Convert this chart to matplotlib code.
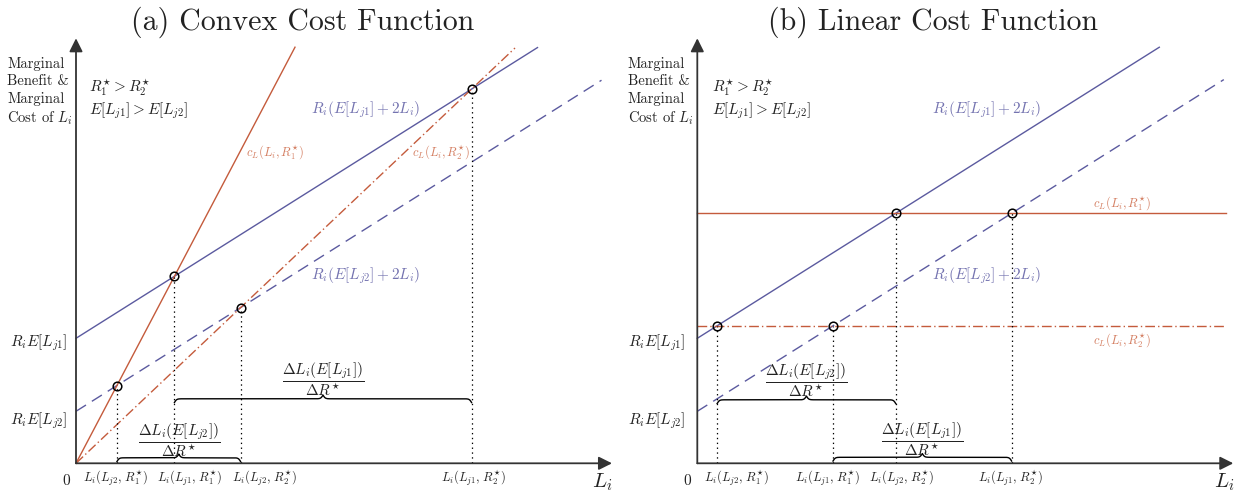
import numpy as np
import matplotlib
matplotlib.use("Agg")
import matplotlib.pyplot as plt

plt.rcParams['font.family'] = 'serif'
plt.rcParams['font.serif'] = ['cmr10']
plt.rcParams['mathtext.fontset'] = 'cm'
plt.rcParams['axes.unicode_minus'] = False
plt.rcParams['axes.formatter.use_mathtext'] = True
plt.rcParams['lines.scale_dashes'] = False

# ---- values (1 unit = 50 px) ----
benefit_intercepts = [2.5, 1.04]          # R_i E[L_j1], R_i E[L_j2]
benefit_slope = 0.63
benefit_ends_a = [9.23, 10.51]
benefit_ends_b = [9.24, 10.53]
convex_slopes = [1.9, 0.946]              # c_L(L_i, R1*), c_L(L_i, R2*)
convex_ends = [4.38, 8.78]
linear_levels = [5.0, 2.75]               # c_L(L_i, R1*), c_L(L_i, R2*)
linear_end = 10.57

# where the x labels sit (they are nudged apart in the original)
xtick_pos_a = [0.8, 2.28, 3.78, 7.96]
xtick_pos_b = [0.79, 2.61, 4.09, 6.27]
xtick_labels = [r'$L_i(L_{j2},\,R_1^{\star})$', r'$L_i(L_{j1},\,R_1^{\star})$',
                r'$L_i(L_{j2},\,R_2^{\star})$', r'$L_i(L_{j1},\,R_2^{\star})$']
ytick_labels = [r'$R_iE[L_{j1}]$', r'$R_iE[L_{j2}]$']
benefit_labels = [r'$R_i(E[L_{j1}]+2L_i)$', r'$R_i(E[L_{j2}]+2L_i)$']
cost_labels = [r'$c_L(L_i,R_1^{\star})$', r'$c_L(L_i,R_2^{\star})$']
brace_labels = [r'$\dfrac{\Delta L_i(E[L_{j1}])}{\Delta R^{\star}}$',
                r'$\dfrac{\Delta L_i(E[L_{j2}])}{\Delta R^{\star}}$']
titles = ['(a) Convex Cost Function', '(b) Linear Cost Function']

BLUE = '#5b5a9f'
RED = '#c45b3c'
BLUE_TXT = '#7473b0'
RED_TXT = '#d47f62'
INK = '#222222'
DASH = (0, (8.5, 5))
DASHDOT = (0, (7, 2.2, 1, 2.2))
DOT = (0, (1, 2.5))


def draw_brace(ax, x0, x1, y, h=0.15, beta=45.0):
    half = (x1 - x0) / 2
    t = np.linspace(0, half, 200)
    yy = 1 / (1 + np.exp(-beta * t)) + 1 / (1 + np.exp(-beta * (t - half))) - 0.5
    xs = np.concatenate([x0 + t, x1 - t[::-1]])
    ys = np.concatenate([yy, yy[::-1]]) * h + y - h / 2
    ax.plot(xs, ys, color='k', lw=1.0)


def draw_axes(ax):
    arrow = dict(arrowstyle='-|>', color='#333333', lw=1.3, mutation_scale=20,
                 shrinkA=0, shrinkB=0)
    ax.annotate('', xy=(10.72, 0), xytext=(0, 0), arrowprops=arrow)
    ax.annotate('', xy=(0, 8.5), xytext=(0, 0), arrowprops=arrow)
    ax.text(-0.2, -0.35, '0', fontsize=11, color=INK, ha='center', va='center')
    ax.text(10.53, -0.38, r'$L_i$', fontsize=15, color=INK, ha='center', va='center')


def common_text(ax, xleft, xcond, ylab_x):
    ax.text(xleft, 8.12, 'Marginal\nBenefit &\nMarginal\nCost of $L_i$', fontsize=10.5,
            color=INK, ha='left', va='top', linespacing=1.3)
    ax.text(xcond, 7.49, r'$R_1^{\star} > R_2^{\star}$', fontsize=11, color=INK,
            ha='left', va='center')
    ax.text(xcond, 7.05, r'$E[L_{j1}] > E[L_{j2}]$', fontsize=11, color=INK,
            ha='left', va='center')
    ax.text(ylab_x, benefit_intercepts[0] - 0.09, ytick_labels[0], fontsize=11,
            color=INK, ha='right', va='center')
    ax.text(ylab_x, benefit_intercepts[1] - 0.19, ytick_labels[1], fontsize=11,
            color=INK, ha='right', va='center')
    ax.text(5.79, 7.07, benefit_labels[0], fontsize=11, color=BLUE_TXT,
            ha='center', va='center')
    ax.text(5.79, 3.75, benefit_labels[1], fontsize=11, color=BLUE_TXT,
            ha='center', va='center')


def mark_points(ax, xs, ys, label_pos):
    for x, y in zip(xs, ys):
        ax.plot([x, x], [0, y], color='k', lw=0.9, linestyle=DOT)
    ax.plot(xs, ys, 'o', mfc='none', mec='k', ms=6.2, mew=1.1, zorder=5)
    for x, lab in zip(label_pos, xtick_labels):
        ax.text(x, -0.31, lab, fontsize=9, color=INK, ha='center', va='center')


fig = plt.figure(figsize=(12.39, 4.91), dpi=100)
W, H, S = 1239, 491, 50.0
ax1 = fig.add_axes([0, 0, 0.5, 1])
ax2 = fig.add_axes([0.5, 0, 0.5, 1])
ax1.set_xlim((0 - 76) / S, (619.5 - 76) / S)
ax2.set_xlim((619.5 - 697.3) / S, (1239 - 697.3) / S)
for ax in (ax1, ax2):
    ax.set_ylim((463.3 - 491) / S, 463.3 / S)
    ax.axis('off')

# ---------------- (a) convex ----------------
ax = ax1
for a, end, ls in zip(benefit_intercepts, benefit_ends_a, ['-', DASH]):
    x = np.array([0, end])
    ax.plot(x, a + benefit_slope * x, color=BLUE, lw=1.0, linestyle=ls)
for k, end, ls in zip(convex_slopes, convex_ends, ['-', DASHDOT]):
    x = np.array([0, end])
    ax.plot(x, k * x, color=RED, lw=1.0, linestyle=ls)
px, py = [], []
for k in convex_slopes:
    for a in benefit_intercepts[::-1]:
        xi = a / (k - benefit_slope)
        px.append(xi)
        py.append(k * xi)
mark_points(ax, px, py, xtick_pos_a)
draw_axes(ax)
common_text(ax, -1.38, 0.26, -0.18)
ax.text(3.98, 6.23, cost_labels[0], fontsize=9, color=RED_TXT, ha='center', va='center')
ax.text(7.31, 6.23, cost_labels[1], fontsize=9, color=RED_TXT, ha='center', va='center')
xs = sorted(px)
draw_brace(ax, xs[1], xs[3], 1.29)
draw_brace(ax, xs[0], xs[2], 0.11)
ax.text((xs[1] + xs[3]) / 2, 1.69, brace_labels[0], fontsize=11, color=INK,
        ha='center', va='center')
ax.text((xs[0] + xs[2]) / 2, 0.47, brace_labels[1], fontsize=11, color=INK,
        ha='center', va='center')

# ---------------- (b) linear ----------------
ax = ax2
for a, end, ls in zip(benefit_intercepts, benefit_ends_b, ['-', DASH]):
    x = np.array([0, end])
    ax.plot(x, a + benefit_slope * x, color=BLUE, lw=1.0, linestyle=ls)
for c, ls in zip(linear_levels, ['-', DASHDOT]):
    ax.plot([0, linear_end], [c, c], color=RED, lw=1.0, linestyle=ls)
px, py = [], []
for c in linear_levels[::-1]:
    for a in benefit_intercepts:
        px.append((c - a) / benefit_slope)
        py.append(c)
mark_points(ax, px, py, xtick_pos_b)
draw_axes(ax)
common_text(ax, -1.39, 0.29, -0.23)
ax.text(8.5, 5.21, cost_labels[0], fontsize=9, color=RED_TXT, ha='center', va='center')
ax.text(8.5, 2.47, cost_labels[1], fontsize=9, color=RED_TXT, ha='center', va='center')
xs = sorted(px)
draw_brace(ax, xs[0], xs[2], 1.27)
draw_brace(ax, xs[1], xs[3], 0.12)
ax.text((xs[0] + xs[2]) / 2, 1.67, brace_labels[1], fontsize=11, color=INK,
        ha='center', va='center')
ax.text((xs[1] + xs[3]) / 2, 0.49, brace_labels[0], fontsize=11, color=INK,
        ha='center', va='center')

fig.text(303 / W, 1 - 22 / H, titles[0], fontsize=21.5, color=INK, ha='center', va='center')
fig.text(933 / W, 1 - 22 / H, titles[1], fontsize=21.5, color=INK, ha='center', va='center')

fig.savefig('out.png', dpi=100)
